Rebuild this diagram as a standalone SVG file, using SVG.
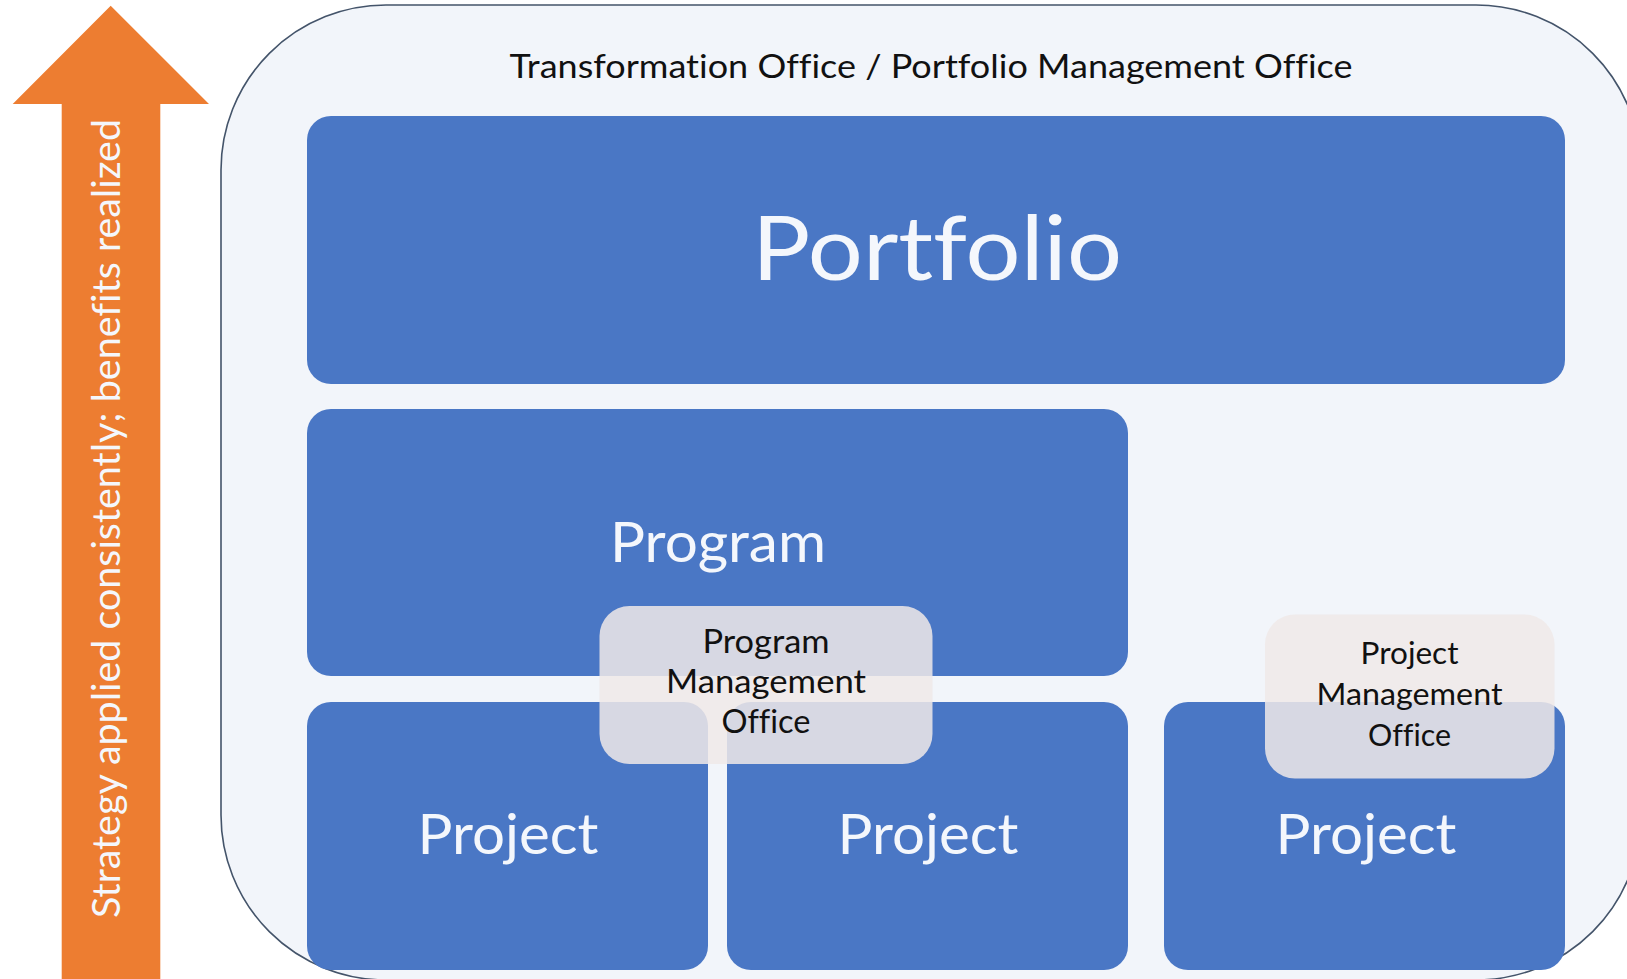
<svg xmlns="http://www.w3.org/2000/svg" width="1627" height="979" viewBox="0 0 1627 979">
<style>
.blue{fill:#4A77C5;}
text{font-variant-ligatures:none;font-feature-settings:"liga" 0;}
.wt{fill:#F4F7FC;font-family:Lato,"Open Sans",sans-serif;text-anchor:middle;}
.dk{fill:#111111;font-family:Lato,"Open Sans",sans-serif;text-anchor:middle;}
.office{fill:#F0E9E8;fill-opacity:0.85;}
</style>
<rect width="1627" height="979" fill="#FFFFFF"/>
<g id="arrow">
<polygon points="110.7,5.7 209,104 160.3,104 160.3,985 61.7,985 61.7,104 12.7,104" fill="#ED7D31"/>
<text class="wt" font-size="39" transform="translate(120,518.5) rotate(-90)" x="0" y="0" textLength="799" lengthAdjust="spacingAndGlyphs">Strategy applied consistently; benefits realized</text>
</g>
<g id="container">
<rect x="221" y="5" width="1420" height="975" rx="165" ry="165" fill="#F2F5FA" stroke="#44546A" stroke-width="1.6"/>
<text class="dk" font-size="32.5" x="931" y="78" textLength="843" lengthAdjust="spacingAndGlyphs">Transformation Office / Portfolio Management Office</text>
</g>
<g id="portfolio">
<rect class="blue" x="307" y="116" width="1258" height="268" rx="24"/>
<text class="wt" font-size="89" x="937" y="280" textLength="370" lengthAdjust="spacingAndGlyphs">Portfolio</text>
</g>
<g id="program">
<rect class="blue" x="307" y="409" width="821" height="267" rx="24"/>
<text class="wt" font-size="57" x="718" y="561.5" textLength="216" lengthAdjust="spacingAndGlyphs">Program</text>
</g>
<g id="project1">
<rect class="blue" x="307" y="702" width="401" height="268" rx="24"/>
<text class="wt" font-size="57" x="508" y="853.5" textLength="181" lengthAdjust="spacingAndGlyphs">Project</text>
</g>
<g id="project2">
<rect class="blue" x="727" y="702" width="401" height="268" rx="24"/>
<text class="wt" font-size="57" x="928" y="853.5" textLength="181" lengthAdjust="spacingAndGlyphs">Project</text>
</g>
<g id="project3">
<rect class="blue" x="1164" y="702" width="401" height="268" rx="24"/>
<text class="wt" font-size="57" x="1366" y="853.5" textLength="181" lengthAdjust="spacingAndGlyphs">Project</text>
</g>
<g id="program-management-office">
<rect class="office" x="599.5" y="606" width="333" height="158" rx="30"/>
<text class="dk" font-size="33"><tspan x="766" y="652.5" textLength="127" lengthAdjust="spacingAndGlyphs">Program</tspan><tspan x="766" y="692.5" textLength="200" lengthAdjust="spacingAndGlyphs">Management</tspan><tspan x="766" y="733" textLength="89" lengthAdjust="spacingAndGlyphs">Office</tspan></text>
</g>
<g id="project-management-office">
<rect class="office" x="1265" y="614.5" width="289.5" height="164" rx="30"/>
<text class="dk" font-size="31.5"><tspan x="1409.5" y="664" textLength="98" lengthAdjust="spacingAndGlyphs">Project</tspan><tspan x="1409.5" y="705" textLength="186" lengthAdjust="spacingAndGlyphs">Management</tspan><tspan x="1409.5" y="746" textLength="83" lengthAdjust="spacingAndGlyphs">Office</tspan></text>
</g>
<g id="connectors"></g>
</svg>
